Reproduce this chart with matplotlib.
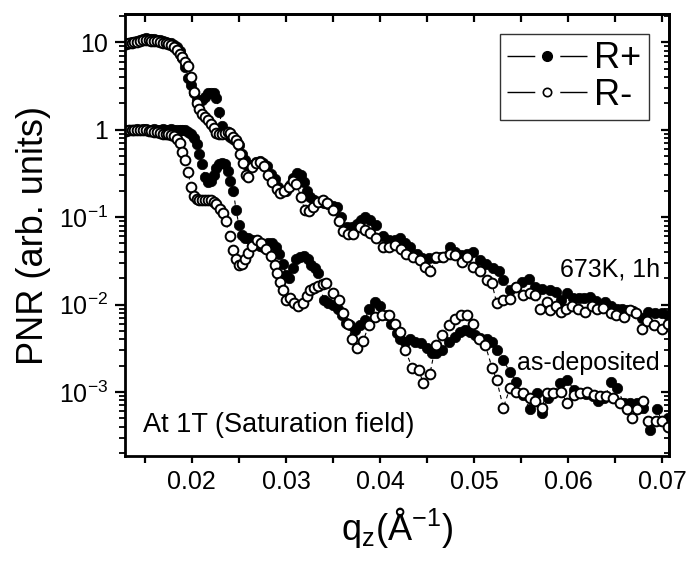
import matplotlib
matplotlib.use("Agg")
from matplotlib import pyplot as plt
from matplotlib.lines import Line2D
import matplotlib.ticker as mticker
import numpy as np

plt.rcParams['font.family'] = ['Liberation Sans', 'DejaVu Sans']
plt.rcParams['mathtext.default'] = 'regular'
plt.rcParams['lines.scale_dashes'] = False

# as-deposited, R+ (filled)
ad_rp_q = [0.0130, 0.0133, 0.0136, 0.0139, 0.0142, 0.0145, 0.0148, 0.0151, 0.0154, 0.0157,
           0.0160, 0.0163, 0.0166, 0.0169, 0.0172, 0.0175, 0.0178, 0.0181, 0.0184, 0.0187,
           0.0190, 0.0193, 0.0196, 0.0199, 0.0202, 0.0205, 0.0208, 0.0211, 0.0214, 0.0217,
           0.0220, 0.0223, 0.0226, 0.0229, 0.0232, 0.0235, 0.0238, 0.0241, 0.0244, 0.0247,
           0.0250, 0.0253, 0.0256, 0.0260, 0.0264, 0.0268, 0.0272, 0.0276, 0.0281, 0.0285,
           0.0289, 0.0293, 0.0297, 0.0300, 0.0303, 0.0307, 0.0311, 0.0315, 0.0319, 0.0323,
           0.0327, 0.0331, 0.0334, 0.0340, 0.0345, 0.0350, 0.0355, 0.0360, 0.0364, 0.0368,
           0.0373, 0.0379, 0.0384, 0.0388, 0.0395, 0.0400, 0.0407, 0.0412, 0.0418, 0.0421,
           0.0427, 0.0432, 0.0437, 0.0444, 0.0450, 0.0455, 0.0460, 0.0466, 0.0473, 0.0480,
           0.0485, 0.0490, 0.0496, 0.0501, 0.0506, 0.0514, 0.0519, 0.0524, 0.0531, 0.0538,
           0.0545, 0.0552, 0.0559, 0.0567, 0.0572, 0.0578, 0.0584, 0.0591, 0.0599, 0.0606,
           0.0613, 0.0619, 0.0626, 0.0632, 0.0638, 0.0646, 0.0652, 0.0659, 0.0666, 0.0673,
           0.0680, 0.0687, 0.0694, 0.0700, 0.0706]
ad_rp_r = [1.00, 0.99, 1.00, 1.00, 1.01, 1.00, 1.02, 1.01, 1.00, 1.00,
           1.01, 1.00, 1.00, 1.01, 1.00, 1.00, 1.01, 1.00, 1.00, 1.00,
           0.99, 0.98, 0.95, 0.90, 0.80, 0.68, 0.52, 0.40, 0.29, 0.25,
           0.26, 0.30, 0.36, 0.40, 0.41, 0.40, 0.34, 0.26, 0.20, 0.12,
           0.081, 0.062, 0.057, 0.057, 0.055, 0.050, 0.047, 0.046, 0.050, 0.050,
           0.046, 0.038, 0.029, 0.022, 0.020, 0.026, 0.033, 0.035, 0.036, 0.033,
           0.028, 0.026, 0.023, 0.0112, 0.0103, 0.0099, 0.0089, 0.0076, 0.0062, 0.0058,
           0.0051, 0.0058, 0.0067, 0.0089, 0.0108, 0.0095, 0.0076, 0.0060, 0.0047, 0.0040,
           0.0037, 0.0040, 0.0037, 0.0036, 0.0032, 0.0028, 0.0028, 0.0030, 0.0037, 0.0043,
           0.0049, 0.0051, 0.0049, 0.0045, 0.0041, 0.0040, 0.0037, 0.0030, 0.0023, 0.0017,
           0.0013, 0.00093, 0.00063, 0.00097, 0.00058, 0.00085, 0.00097, 0.00125, 0.00137, 0.00106,
           0.00097, 0.00095, 0.00090, 0.00078, 0.00085, 0.0013, 0.0011, 0.00075, 0.00075, 0.00075,
           0.00066, 0.00037, 0.00063, 0.00046, 0.00050]

# as-deposited, R- (open)
ad_rm_q = [0.0130, 0.0133, 0.0136, 0.0139, 0.0142, 0.0145, 0.0148, 0.0151, 0.0154, 0.0157,
           0.0160, 0.0163, 0.0166, 0.0169, 0.0172, 0.0175, 0.0178, 0.0181, 0.0184, 0.0187,
           0.0190, 0.0193, 0.0196, 0.0199, 0.0202, 0.0205, 0.0208, 0.0211, 0.0214, 0.0217,
           0.0220, 0.0223, 0.0226, 0.0230, 0.0233, 0.0236, 0.0240, 0.0244, 0.0247, 0.0250,
           0.0253, 0.0256, 0.0260, 0.0264, 0.0269, 0.0274, 0.0279, 0.0284, 0.0288, 0.0291,
           0.0294, 0.0297, 0.0300, 0.0304, 0.0309, 0.0313, 0.0318, 0.0322, 0.0326, 0.0330,
           0.0334, 0.0339, 0.0343, 0.0350, 0.0356, 0.0361, 0.0366, 0.0370, 0.0375, 0.0382,
           0.0388, 0.0395, 0.0402, 0.0409, 0.0416, 0.0421, 0.0427, 0.0434, 0.0441, 0.0446,
           0.0453, 0.0459, 0.0466, 0.0473, 0.0480, 0.0486, 0.0492, 0.0499, 0.0505, 0.0512,
           0.0519, 0.0524, 0.0531, 0.0538, 0.0545, 0.0552, 0.0559, 0.0565, 0.0572, 0.0577,
           0.0584, 0.0592, 0.0599, 0.0606, 0.0613, 0.0620, 0.0627, 0.0634, 0.0640, 0.0648,
           0.0655, 0.0662, 0.0668, 0.0673, 0.0680, 0.0685, 0.0693, 0.0700, 0.0706]
ad_rm_r = [0.97, 0.98, 0.99, 0.98, 1.00, 0.99, 1.00, 0.98, 0.97, 0.96,
           0.95, 0.93, 0.92, 0.90, 0.89, 0.88, 0.87, 0.85, 0.78, 0.70,
           0.55, 0.45, 0.33, 0.22, 0.175, 0.160, 0.157, 0.156, 0.157, 0.156,
           0.155, 0.150, 0.140, 0.125, 0.112, 0.090, 0.060, 0.042, 0.033, 0.028,
           0.029, 0.033, 0.039, 0.047, 0.054, 0.051, 0.043, 0.036, 0.028, 0.023,
           0.018, 0.0145, 0.0112, 0.0118, 0.0103, 0.0097, 0.0103, 0.0125, 0.0145, 0.0155,
           0.0162, 0.0170, 0.0174, 0.0135, 0.0112, 0.0079, 0.0060, 0.0040, 0.0032, 0.0038,
           0.0058, 0.0072, 0.0076, 0.0076, 0.0060, 0.0049, 0.0030, 0.0019, 0.0018, 0.00126,
           0.0016, 0.0034, 0.0045, 0.0058, 0.0068, 0.0076, 0.0076, 0.0060, 0.0040, 0.0034,
           0.0019, 0.00137, 0.00066, 0.0011, 0.0010, 0.00097, 0.00085, 0.00078, 0.00066, 0.00097,
           0.00097, 0.0010, 0.00075, 0.00093, 0.00097, 0.0010, 0.00093, 0.00089, 0.00089, 0.00085,
           0.00075, 0.00063, 0.00050, 0.00063, 0.00078, 0.00046, 0.00047, 0.00046, 0.00040]

# 673K 1h, R+ (filled)
an_rp_q = [0.0130, 0.0133, 0.0136, 0.0139, 0.0142, 0.0145, 0.0148, 0.0151, 0.0154, 0.0157,
           0.0160, 0.0163, 0.0166, 0.0169, 0.0172, 0.0175, 0.0178, 0.0181, 0.0184, 0.0187,
           0.0190, 0.0193, 0.0196, 0.0199, 0.0202, 0.0205, 0.0208, 0.0211, 0.0214, 0.0217,
           0.0220, 0.0223, 0.0226, 0.0229, 0.0232, 0.0235, 0.0238, 0.0241, 0.0244, 0.0247,
           0.0250, 0.0253, 0.0256, 0.0260, 0.0264, 0.0268, 0.0272, 0.0276, 0.0280, 0.0284,
           0.0288, 0.0292, 0.0296, 0.0300, 0.0304, 0.0308, 0.0312, 0.0316, 0.0319, 0.0322,
           0.0326, 0.0330, 0.0335, 0.0340, 0.0345, 0.0350, 0.0354, 0.0359, 0.0365, 0.0370,
           0.0375, 0.0380, 0.0384, 0.0389, 0.0396, 0.0403, 0.0410, 0.0416, 0.0421, 0.0427,
           0.0432, 0.0439, 0.0445, 0.0452, 0.0458, 0.0465, 0.0474, 0.0480, 0.0486, 0.0492,
           0.0499, 0.0506, 0.0513, 0.0520, 0.0526, 0.0531, 0.0538, 0.0545, 0.0551, 0.0558,
           0.0565, 0.0572, 0.0581, 0.0587, 0.0592, 0.0599, 0.0605, 0.0611, 0.0617, 0.0623,
           0.0630, 0.0639, 0.0645, 0.0652, 0.0657, 0.0662, 0.0669, 0.0678, 0.0685, 0.0692,
           0.0700, 0.0706]
an_rp_r = [9.7, 9.9, 10.0, 10.1, 10.3, 10.6, 10.9, 11.1, 11.0, 10.9,
           10.8, 10.6, 10.5, 10.3, 10.1, 9.9, 9.7, 9.4, 8.8, 7.9,
           6.6, 5.2, 3.9, 3.2, 2.6, 2.2, 2.15, 2.2, 2.35, 2.6,
           2.65, 2.6, 2.3, 1.6, 1.1, 0.95, 0.86, 0.82, 0.78, 0.74,
           0.66, 0.53, 0.45, 0.38, 0.39, 0.43, 0.44, 0.42, 0.38, 0.31,
           0.27, 0.22, 0.20, 0.20, 0.23, 0.28, 0.32, 0.30, 0.25, 0.20,
           0.17, 0.156, 0.150, 0.145, 0.140, 0.135, 0.130, 0.100, 0.077, 0.077,
           0.083, 0.092, 0.100, 0.092, 0.081, 0.060, 0.055, 0.055, 0.057, 0.050,
           0.045, 0.038, 0.034, 0.034, 0.034, 0.035, 0.046, 0.040, 0.037, 0.038,
           0.040, 0.032, 0.029, 0.026, 0.024, 0.019, 0.0147, 0.016, 0.018, 0.0198,
           0.016, 0.015, 0.0147, 0.014, 0.0112, 0.0135, 0.012, 0.0118, 0.012, 0.0122,
           0.011, 0.0108, 0.0095, 0.0089, 0.0089, 0.0086, 0.0085, 0.0070, 0.0082, 0.0079,
           0.0079, 0.0075]

# 673K 1h, R- (open)
an_rm_q = [0.0130, 0.0133, 0.0136, 0.0139, 0.0142, 0.0145, 0.0148, 0.0151, 0.0154, 0.0157,
           0.0160, 0.0163, 0.0166, 0.0169, 0.0172, 0.0175, 0.0178, 0.0181, 0.0184, 0.0187,
           0.0190, 0.0193, 0.0196, 0.0199, 0.0202, 0.0205, 0.0208, 0.0211, 0.0214, 0.0217,
           0.0220, 0.0223, 0.0226, 0.0229, 0.0232, 0.0235, 0.0238, 0.0241, 0.0244, 0.0247,
           0.0249, 0.0251, 0.0254, 0.0257, 0.0260, 0.0264, 0.0268, 0.0272, 0.0277, 0.0281,
           0.0285, 0.0290, 0.0294, 0.0298, 0.0303, 0.0307, 0.0311, 0.0316, 0.0320, 0.0324,
           0.0329, 0.0334, 0.0339, 0.0344, 0.0350, 0.0356, 0.0361, 0.0366, 0.0371, 0.0379,
           0.0384, 0.0389, 0.0396, 0.0403, 0.0409, 0.0416, 0.0422, 0.0428, 0.0435, 0.0442,
           0.0448, 0.0453, 0.0460, 0.0467, 0.0474, 0.0480, 0.0487, 0.0492, 0.0499, 0.0506,
           0.0514, 0.0519, 0.0524, 0.0531, 0.0538, 0.0545, 0.0552, 0.0559, 0.0565, 0.0570,
           0.0577, 0.0581, 0.0587, 0.0592, 0.0598, 0.0604, 0.0610, 0.0618, 0.0625, 0.0631,
           0.0637, 0.0645, 0.0651, 0.0659, 0.0666, 0.0672, 0.0678, 0.0684, 0.0691, 0.0700,
           0.0706]
an_rm_r = [9.5, 9.7, 9.9, 10.0, 10.1, 10.3, 10.5, 10.6, 10.5, 10.4,
           10.3, 10.2, 10.0, 9.9, 9.7, 9.5, 9.3, 8.8, 8.1, 7.4,
           6.8, 6.0, 5.3, 4.0, 2.7, 2.0, 1.7, 1.5, 1.38, 1.28,
           1.15, 1.05, 0.92, 0.88, 0.89, 0.92, 0.94, 0.92, 0.83, 0.76,
           0.68, 0.52, 0.41, 0.30, 0.29, 0.37, 0.42, 0.43, 0.38, 0.30,
           0.25, 0.21, 0.19, 0.20, 0.22, 0.26, 0.24, 0.17, 0.12, 0.117,
           0.13, 0.15, 0.156, 0.145, 0.12, 0.09, 0.07, 0.064, 0.064, 0.077,
           0.072, 0.066, 0.057, 0.046, 0.046, 0.048, 0.043, 0.038, 0.035, 0.032,
           0.027, 0.024, 0.035, 0.035, 0.038, 0.0366, 0.031, 0.035, 0.027, 0.024,
           0.019, 0.0174, 0.0103, 0.0112, 0.0117, 0.016, 0.0128, 0.0135, 0.013, 0.0089,
           0.0108, 0.0086, 0.0095, 0.0083, 0.009, 0.0095, 0.009, 0.0083, 0.0095, 0.009,
           0.0092, 0.0079, 0.0075, 0.0072, 0.0086, 0.008, 0.0053, 0.0065, 0.0058, 0.0053,
           0.0060]

y_ticks = [1e-3, 1e-2, 1e-1, 1, 10]
y_tick_labels = ['10$^{-3}$', '10$^{-2}$', '10$^{-1}$', '1', '10']
x_ticks = [0.02, 0.03, 0.04, 0.05, 0.06, 0.07]
x_tick_labels = ['0.02', '0.03', '0.04', '0.05', '0.06', '0.07']

fig = plt.figure(figsize=(6.91, 5.71), dpi=100)
ax = fig.add_axes([0.181, 0.2014, 0.787, 0.774])

line_kw = dict(color='black', linestyle='--', dashes=(3, 2.5), linewidth=0.8)
filled_kw = dict(marker='o', markersize=7.5, markerfacecolor='black',
                 markeredgecolor='black', markeredgewidth=0.5)
open_kw = dict(marker='o', markersize=7, markerfacecolor='white',
               markeredgecolor='black', markeredgewidth=1.4)

ax.plot(ad_rp_q, ad_rp_r, **line_kw, **filled_kw)
ax.plot(ad_rm_q, ad_rm_r, **line_kw, **open_kw)
ax.plot(an_rp_q, an_rp_r, **line_kw, **filled_kw)
ax.plot(an_rm_q, an_rm_r, **line_kw, **open_kw)

ax.set_yscale('log')
ax.set_xlim(0.0129, 0.0707)
ax.set_ylim(1.85e-4, 21)

ax.set_xticks(x_ticks)
ax.set_xticklabels(x_tick_labels)
ax.xaxis.set_minor_locator(mticker.MultipleLocator(0.005))
ax.set_yticks(y_ticks)
ax.set_yticklabels(y_tick_labels)
ax.yaxis.set_minor_locator(mticker.LogLocator(base=10, subs=np.arange(2, 10), numticks=20))
ax.yaxis.set_minor_formatter(mticker.NullFormatter())

ax.tick_params(axis='both', which='major', labelsize=18, width=1.6, pad=5)
ax.tick_params(axis='x', which='both', direction='out', length=5, width=1.6)
ax.tick_params(axis='y', which='major', direction='out', length=7)
ax.tick_params(axis='y', which='minor', direction='out', length=4, width=1.3)
for s in ax.spines.values():
    s.set_linewidth(2.0)

top = ax.secondary_xaxis('top')
top.set_xticks(np.arange(0.015, 0.0705, 0.005))
top.tick_params(direction='in', length=6, width=1.6, labeltop=False)
top.xaxis.set_minor_locator(mticker.NullLocator())
top.spines['top'].set_linewidth(2.0)

right = ax.secondary_yaxis('right')
right.set_yticks(y_ticks)
right.yaxis.set_minor_locator(mticker.LogLocator(base=10, subs=np.arange(2, 10), numticks=20))
right.tick_params(which='major', direction='in', length=6, width=1.6, labelright=False)
right.tick_params(which='minor', direction='in', length=3.5, width=1.3, labelright=False)
right.yaxis.set_minor_formatter(mticker.NullFormatter())
right.spines['right'].set_linewidth(2.0)

ax.set_xlabel('q$_z$(Å$^{-1}$)', fontsize=26, labelpad=8)
ax.set_ylabel('PNR (arb. units)', fontsize=26, labelpad=6)

ax.text(0.983, 0.421, '673K, 1h', transform=ax.transAxes, fontsize=18,
        ha='right', va='center')
ax.text(0.983, 0.210, 'as-deposited', transform=ax.transAxes, fontsize=18,
        ha='right', va='center')
ax.text(0.033, 0.070, 'At 1T (Saturation field)', transform=ax.transAxes, fontsize=19.5,
        ha='left', va='center')

leg_handles = [
    Line2D([], [], color='black', linewidth=1.0, linestyle='--', dashes=(20, 18, 20, 100),
           marker='o', markersize=7, markerfacecolor='black', markeredgecolor='black'),
    Line2D([], [], color='black', linewidth=1.0, linestyle='--', dashes=(20, 18, 20, 100),
           marker='o', markersize=6, markerfacecolor='white', markeredgecolor='black',
           markeredgewidth=1.2),
]
leg = ax.legend(leg_handles, ['R+', 'R-'], loc='upper right', bbox_to_anchor=(0.963, 0.955),
                borderaxespad=0, fontsize=26, handlelength=57.6 / 26, numpoints=1,
                fancybox=False, frameon=True, edgecolor='black', handletextpad=0.2,
                labelspacing=0.05, borderpad=0.2)
leg.get_frame().set_linewidth(1.0)

fig.savefig('out.png', dpi=100)
